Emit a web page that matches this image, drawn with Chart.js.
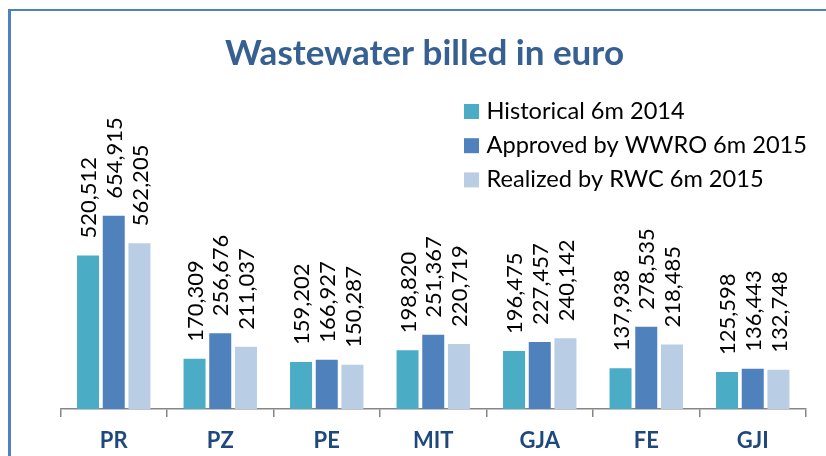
<!DOCTYPE html>
<html><head><meta charset="utf-8">
<script src="https://cdn.jsdelivr.net/npm/chart.js@4"></script>
<style>html,body{margin:0;padding:0;background:#fff;}#wrap{position:relative;width:826px;height:456px;}</style>
</head><body><div id="wrap"><canvas id="c" width="826" height="456"></canvas></div>
<script>
const categories = ['PR','PZ','PE','MIT','GJA','FE','GJI'];
const seriesNames = ['Historical 6m 2014','Approved by WWRO 6m 2015','Realized by RWC 6m 2015'];
const historical = [520512,170309,159202,198820,196475,137938,125598];
const approved = [654915,256676,166927,251367,227457,278535,136443];
const realized = [562205,211037,150287,220719,240142,218485,132748];
const titleText = 'Wastewater billed in euro';
const seriesColors = ['#4BACC6','#4F81BD','#B9CDE5'];

const decor = {
  id: 'decor',
  beforeDraw(chart) {
    const ctx = chart.ctx;
    ctx.save();
    ctx.fillStyle = '#ffffff';
    ctx.fillRect(0, 0, chart.width, chart.height);
    ctx.fillStyle = '#4F81BD';
    ctx.fillRect(8, 9, chart.width, 2);
    ctx.fillRect(8, 9, 3, chart.height);
    ctx.restore();
  },
  afterDatasetsDraw(chart) {
    const ctx = chart.ctx;
    ctx.save();
    ctx.font = '22px Lato';
    ctx.fillStyle = '#000000';
    ctx.textAlign = 'left';
    ctx.textBaseline = 'middle';
    chart.data.datasets.forEach((ds, i) => {
      const meta = chart.getDatasetMeta(i);
      meta.data.forEach((el, j) => {
        ctx.save();
        ctx.translate(el.x + 1, el.y - 17);
        ctx.rotate(-Math.PI / 2);
        ctx.fillText(ds.data[j].toLocaleString('en-US'), 0, 0);
        ctx.restore();
      });
    });
    ctx.restore();
  },
  afterDraw(chart) {
    const ctx = chart.ctx;
    ctx.save();
    ctx.font = 'bold 35px Lato';
    ctx.fillStyle = '#376092';
    ctx.textAlign = 'center';
    ctx.textBaseline = 'alphabetic';
    ctx.fillText(titleText, 424.5, 65);
    ctx.font = '23.6px Lato';
    ctx.textAlign = 'left';
    chart.data.datasets.forEach((ds, i) => {
      const top = 104 + i * 34.2;
      ctx.fillStyle = ds.backgroundColor;
      ctx.fillRect(464, top, 15, 15);
      ctx.fillStyle = '#000000';
      ctx.fillText(ds.label, 486.5, top + 15);
    });
    ctx.restore();
  }
};

new Chart(document.getElementById('c'), {
  type: 'bar',
  data: {
    labels: categories,
    datasets: [
      { label: seriesNames[0], data: historical, backgroundColor: seriesColors[0] },
      { label: seriesNames[1], data: approved, backgroundColor: seriesColors[1] },
      { label: seriesNames[2], data: realized, backgroundColor: seriesColors[2] }
    ]
  },
  options: {
    responsive: false,
    animation: false,
    devicePixelRatio: 1,
    categoryPercentage: 0.724,
    barPercentage: 0.856,
    layout: { padding: { left: 60.5, right: 20, top: 114, bottom: -9.4 } },
    plugins: { legend: { display: false }, title: { display: false }, tooltip: { enabled: false } },
    scales: {
      y: { display: false, min: 0, max: 1000000 },
      x: {
        grid: { offset: true, drawOnChartArea: false, drawTicks: true, tickLength: 8, color: '#868686', lineWidth: 1.5 },
        border: { display: true, color: '#868686', width: 1.5 },
        ticks: { font: { family: 'Lato', weight: 'bold', size: 22 }, color: '#1F497D', padding: 11 }
      }
    }
  },
  plugins: [decor]
});
</script></body></html>
